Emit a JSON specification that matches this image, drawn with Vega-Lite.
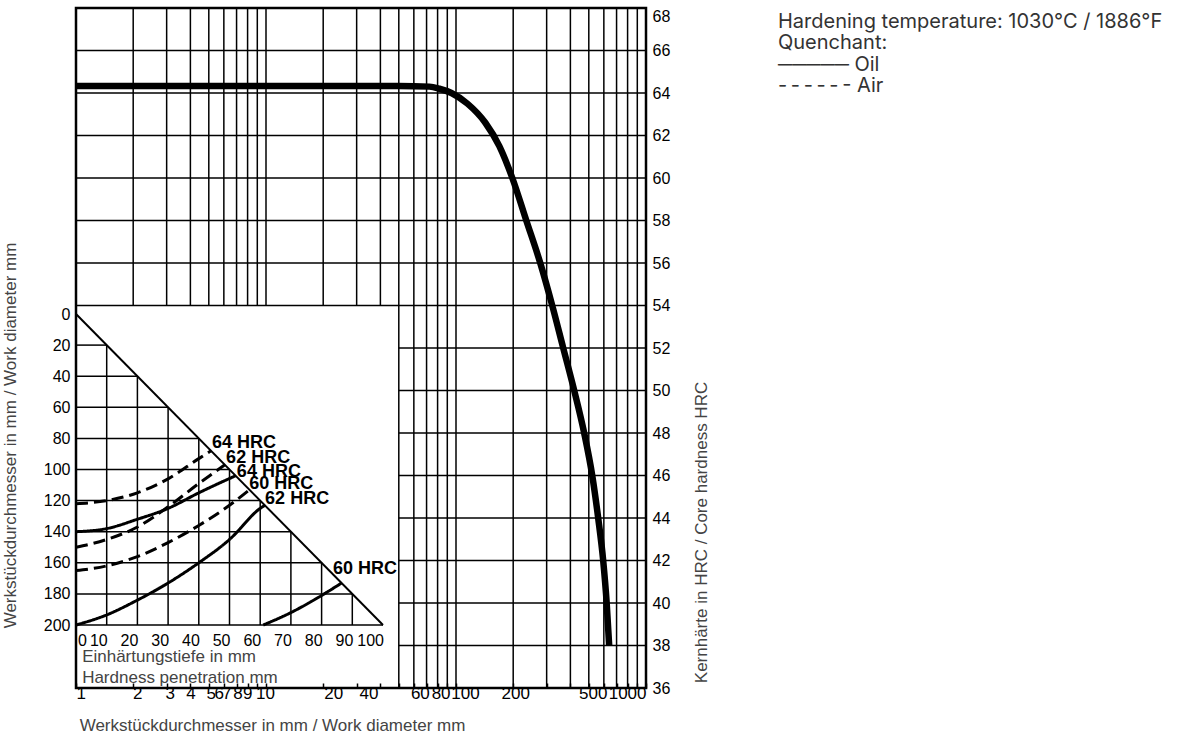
{
  "$schema": "https://vega.github.io/schema/vega-lite/v6.json",
  "width": 570,
  "height": 680,
  "autosize": "none",
  "padding": {"left": 76, "top": 8, "right": 532, "bottom": 52},
  "background": "white",
  "config": {
    "view": {"stroke": "#000", "strokeWidth": 2.5},
    "axis": {"grid": false}
  },
  "title": {
    "text": ["Hardening temperature: 1030°C / 1886°F", "Quenchant:", "───── Oil", "-\u2009-\u2009-\u2009-\u2009-\u2009- Air"],
    "anchor": "start",
    "frame": "group",
    "orient": "top",
    "dx": 702,
    "offset": -89,
    "baseline": "top",
    "font": "Inter",
    "fontSize": 20,
    "fontWeight": "normal",
    "color": "#333",
    "lineHeight": 21.5
  },
  "datasets": {
    "vgrid": [
      {"x": 2, "y": 54, "y2": 68}, {"x": 3, "y": 54, "y2": 68}, {"x": 4, "y": 54, "y2": 68},
      {"x": 5, "y": 54, "y2": 68}, {"x": 6, "y": 54, "y2": 68}, {"x": 7, "y": 54, "y2": 68},
      {"x": 8, "y": 54, "y2": 68}, {"x": 9, "y": 54, "y2": 68}, {"x": 10, "y": 54, "y2": 68},
      {"x": 20, "y": 54, "y2": 68}, {"x": 30, "y": 54, "y2": 68}, {"x": 40, "y": 54, "y2": 68},
      {"x": 50, "y": 36, "y2": 68}, {"x": 60, "y": 36, "y2": 68}, {"x": 70, "y": 36, "y2": 68},
      {"x": 80, "y": 36, "y2": 68}, {"x": 90, "y": 36, "y2": 68}, {"x": 100, "y": 36, "y2": 68},
      {"x": 200, "y": 36, "y2": 68}, {"x": 300, "y": 36, "y2": 68}, {"x": 400, "y": 36, "y2": 68},
      {"x": 500, "y": 36, "y2": 68}, {"x": 600, "y": 36, "y2": 68}, {"x": 700, "y": 36, "y2": 68},
      {"x": 800, "y": 36, "y2": 68}, {"x": 900, "y": 36, "y2": 68}
    ],
    "hgrid": [
      {"y": 38, "x": 50, "x2": 1000}, {"y": 40, "x": 50, "x2": 1000}, {"y": 42, "x": 50, "x2": 1000},
      {"y": 44, "x": 50, "x2": 1000}, {"y": 46, "x": 50, "x2": 1000}, {"y": 48, "x": 50, "x2": 1000},
      {"y": 50, "x": 50, "x2": 1000}, {"y": 52, "x": 50, "x2": 1000}, {"y": 54, "x": 1, "x2": 1000},
      {"y": 56, "x": 1, "x2": 1000}, {"y": 58, "x": 1, "x2": 1000}, {"y": 60, "x": 1, "x2": 1000},
      {"y": 62, "x": 1, "x2": 1000}, {"y": 64, "x": 1, "x2": 1000}, {"y": 66, "x": 1, "x2": 1000}
    ],
    "core": [
      {"x": 1, "y": 64.33}, {"x": 50, "y": 64.33}, {"x": 72.5, "y": 64.3}, {"x": 81.8, "y": 64.2},
      {"x": 94.6, "y": 64.0}, {"x": 114.8, "y": 63.5}, {"x": 142.7, "y": 62.6}, {"x": 169.1, "y": 61.5},
      {"x": 197.9, "y": 60.0}, {"x": 234.4, "y": 58.0}, {"x": 277.6, "y": 56.0}, {"x": 321.0, "y": 54.0},
      {"x": 366.7, "y": 52.0}, {"x": 419.0, "y": 50.0}, {"x": 472.8, "y": 48.0}, {"x": 521.2, "y": 46.0},
      {"x": 560.2, "y": 44.0}, {"x": 595.2, "y": 42.0}, {"x": 620.9, "y": 40.0}, {"x": 640.0, "y": 38.0}
    ],
    "ivgrid": [
      {"x": 10, "y": 20, "y2": 200}, {"x": 20, "y": 40, "y2": 200}, {"x": 30, "y": 60, "y2": 200},
      {"x": 40, "y": 80, "y2": 200}, {"x": 50, "y": 100, "y2": 200}, {"x": 60, "y": 120, "y2": 200},
      {"x": 70, "y": 140, "y2": 200}, {"x": 80, "y": 160, "y2": 200}, {"x": 90, "y": 180, "y2": 200}
    ],
    "ihgrid": [
      {"y": 20, "x": 0, "x2": 10}, {"y": 40, "x": 0, "x2": 20}, {"y": 60, "x": 0, "x2": 30},
      {"y": 80, "x": 0, "x2": 40}, {"y": 100, "x": 0, "x2": 50}, {"y": 120, "x": 0, "x2": 60},
      {"y": 140, "x": 0, "x2": 70}, {"y": 160, "x": 0, "x2": 80}, {"y": 180, "x": 0, "x2": 90},
      {"y": 200, "x": 0, "x2": 100}
    ],
    "diag": [{"x": 0, "y": 0, "x2": 100, "y2": 200}],
    "pen": [
      {"c": "A64", "q": "Air", "x": 0, "y": 122}, {"c": "A64", "q": "Air", "x": 10, "y": 120},
      {"c": "A64", "q": "Air", "x": 20, "y": 115}, {"c": "A64", "q": "Air", "x": 30, "y": 106},
      {"c": "A64", "q": "Air", "x": 40, "y": 93}, {"c": "A64", "q": "Air", "x": 44, "y": 88},
      {"c": "A62", "q": "Air", "x": 0, "y": 150}, {"c": "A62", "q": "Air", "x": 10, "y": 145},
      {"c": "A62", "q": "Air", "x": 20, "y": 137}, {"c": "A62", "q": "Air", "x": 30, "y": 124},
      {"c": "A62", "q": "Air", "x": 40, "y": 109}, {"c": "A62", "q": "Air", "x": 48.5, "y": 97},
      {"c": "A60", "q": "Air", "x": 0, "y": 165}, {"c": "A60", "q": "Air", "x": 10, "y": 162},
      {"c": "A60", "q": "Air", "x": 20, "y": 156}, {"c": "A60", "q": "Air", "x": 30, "y": 147},
      {"c": "A60", "q": "Air", "x": 40, "y": 136}, {"c": "A60", "q": "Air", "x": 50, "y": 123},
      {"c": "A60", "q": "Air", "x": 56.5, "y": 113},
      {"c": "O64", "q": "Oil", "x": 0, "y": 140}, {"c": "O64", "q": "Oil", "x": 10, "y": 138},
      {"c": "O64", "q": "Oil", "x": 20, "y": 132}, {"c": "O64", "q": "Oil", "x": 30, "y": 125},
      {"c": "O64", "q": "Oil", "x": 40, "y": 115}, {"c": "O64", "q": "Oil", "x": 52, "y": 104},
      {"c": "O62", "q": "Oil", "x": 0, "y": 200}, {"c": "O62", "q": "Oil", "x": 10, "y": 193.5},
      {"c": "O62", "q": "Oil", "x": 20, "y": 184}, {"c": "O62", "q": "Oil", "x": 30, "y": 173},
      {"c": "O62", "q": "Oil", "x": 40, "y": 160}, {"c": "O62", "q": "Oil", "x": 50, "y": 145},
      {"c": "O62", "q": "Oil", "x": 60, "y": 125}, {"c": "O62", "q": "Oil", "x": 61.5, "y": 123},
      {"c": "O60", "q": "Oil", "x": 61, "y": 200}, {"c": "O60", "q": "Oil", "x": 70, "y": 192},
      {"c": "O60", "q": "Oil", "x": 80, "y": 181}, {"c": "O60", "q": "Oil", "x": 86.5, "y": 173}
    ],
    "hrc": [
      {"t": "64 HRC", "x": 44.3, "y": 83}, {"t": "62 HRC", "x": 48.9, "y": 92.6},
      {"t": "64 HRC", "x": 52.4, "y": 101.6}, {"t": "60 HRC", "x": 56.4, "y": 109.3},
      {"t": "62 HRC", "x": 61.6, "y": 119}, {"t": "60 HRC", "x": 83.7, "y": 164}
    ],
    "ilab": [
      {"t": "10", "x": 10}, {"t": "20", "x": 20}, {"t": "30", "x": 30}, {"t": "40", "x": 40},
      {"t": "50", "x": 50}, {"t": "60", "x": 60}, {"t": "70", "x": 70}, {"t": "80", "x": 80},
      {"t": "90", "x": 90}, {"t": "100", "x": 100}
    ],
    "ititle": [
      {"t": "Einhärtungstiefe in mm", "x": 2, "y": 223.8},
      {"t": "Hardness penetration mm", "x": 2, "y": 237.3}
    ]
  },
  "layer": [
    {
      "layer": [
        {
          "data": {"name": "vgrid"},
          "mark": {"type": "rule", "stroke": "#000", "strokeWidth": 1.5},
          "encoding": {
            "x": {
              "field": "x", "type": "quantitative",
              "scale": {"type": "log", "domain": [1, 1000], "nice": false},
              "axis": {
                "orient": "bottom",
                "values": [1,2,3,4,5,6,7,8,9,10,20,30,40,50,60,70,80,90,100,200,300,400,500,600,700,800,900,1000],
                "labelExpr": "indexof([1,2,3,4,5,6,7,8,9,10,20,40,60,80,100,200,500,1000], datum.value) >= 0 ? '' + datum.value : ''",
                "labelFont": "Liberation Sans", "labelFontSize": 17, "labelColor": "#000",
                "labelPadding": 2, "labelFlush": true, "labelOverlap": false, "labelBound": false,
                "labelOffset": {
                  "condition": [
                    {"test": "datum.value == 2", "value": 4},
                    {"test": "datum.value == 3", "value": 3},
                    {"test": "datum.value == 5", "value": 2},
                    {"test": "datum.value == 6", "value": -5},
                    {"test": "datum.value == 7", "value": -10},
                    {"test": "datum.value == 8", "value": -10},
                    {"test": "datum.value == 9", "value": -10},
                    {"test": "datum.value == 10", "value": -1},
                    {"test": "datum.value == 20", "value": 10},
                    {"test": "datum.value == 40", "value": -12},
                    {"test": "datum.value == 60", "value": 6},
                    {"test": "datum.value == 80", "value": 3},
                    {"test": "datum.value == 100", "value": 9},
                    {"test": "datum.value == 200", "value": 2},
                    {"test": "datum.value == 500", "value": 4}
                  ],
                  "value": 0
                },
                "domain": false, "ticks": true, "tickSize": -5, "tickColor": "#000", "tickWidth": 1.5,
                "zindex": 1,
                "title": "Werkstückdurchmesser in mm / Work diameter mm",
                "titleFont": "Liberation Sans", "titleFontSize": 17, "titleFontWeight": "normal",
                "titleColor": "#444", "titleX": 196, "titleY": 37, "titleAlign": "center", "titleBaseline": "middle"
              }
            },
            "y": {
              "field": "y", "type": "quantitative",
              "scale": {"domain": [36, 68], "nice": false, "zero": false},
              "axis": {
                "orient": "right",
                "values": [36,38,40,42,44,46,48,50,52,54,56,58,60,62,64,66,68],
                "labelFont": "Liberation Sans", "labelFontSize": 16, "labelColor": "#000",
                "labelPadding": 6, "labelOverlap": false, "labelFlush": false,
                "labelBaseline": {"condition": {"test": "datum.value == 68", "value": "top"}, "value": "middle"},
                "domain": false, "ticks": false,
                "title": "Kernhärte in HRC / Core hardness HRC",
                "titleFont": "Liberation Sans", "titleFontSize": 17, "titleFontWeight": "normal",
                "titleColor": "#444", "titleAngle": 270, "titleX": 60, "titleY": 524,
                "titleAlign": "center", "titleBaseline": "alphabetic"
              }
            },
            "y2": {"field": "y2"}
          }
        },
        {
          "data": {"name": "hgrid"},
          "mark": {"type": "rule", "stroke": "#000", "strokeWidth": 1.5},
          "encoding": {
            "y": {"field": "y", "type": "quantitative"},
            "x": {"field": "x", "type": "quantitative"},
            "x2": {"field": "x2"}
          }
        },
        {
          "data": {"name": "core"},
          "mark": {"type": "line", "stroke": "#000", "strokeWidth": 6.5, "strokeCap": "butt", "strokeJoin": "round", "interpolate": "monotone"},
          "encoding": {
            "x": {"field": "x", "type": "quantitative"},
            "y": {"field": "y", "type": "quantitative"}
          }
        }
      ]
    },
    {
      "layer": [
        {
          "data": {"name": "ivgrid"},
          "mark": {"type": "rule", "stroke": "#000", "strokeWidth": 1.5},
          "encoding": {
            "x": {"field": "x", "type": "quantitative", "scale": {"domain": [0, 100], "range": [0, 307], "nice": false, "zero": false}, "axis": null},
            "y": {
              "field": "y", "type": "quantitative",
              "scale": {"domain": [0, 200], "range": [306, 617], "nice": false, "zero": false},
              "axis": {
                "orient": "left",
                "values": [0,20,40,60,80,100,120,140,160,180,200],
                "labelFont": "Liberation Sans", "labelFontSize": 16, "labelColor": "#000",
                "labelPadding": 6, "labelOverlap": false, "labelFlush": false, "labelBaseline": "middle",
                "domain": false, "ticks": false,
                "title": "Werkstückdurchmesser in mm / Work diameter mm",
                "titleFont": "Liberation Sans", "titleFontSize": 17, "titleFontWeight": "normal",
                "titleColor": "#444", "titleAngle": 270, "titleX": -61, "titleY": 427,
                "titleAlign": "center", "titleBaseline": "alphabetic"
              }
            },
            "y2": {"field": "y2"}
          }
        },
        {
          "data": {"name": "ihgrid"},
          "mark": {"type": "rule", "stroke": "#000", "strokeWidth": 1.5},
          "encoding": {
            "y": {"field": "y", "type": "quantitative"},
            "x": {"field": "x", "type": "quantitative", "axis": null},
            "x2": {"field": "x2"}
          }
        },
        {
          "data": {"name": "diag"},
          "mark": {"type": "rule", "stroke": "#000", "strokeWidth": 2},
          "encoding": {
            "x": {"field": "x", "type": "quantitative", "axis": null},
            "y": {"field": "y", "type": "quantitative"},
            "x2": {"field": "x2"},
            "y2": {"field": "y2"}
          }
        },
        {
          "data": {"name": "pen"},
          "mark": {"type": "line", "stroke": "#000", "strokeWidth": 3, "interpolate": "monotone"},
          "encoding": {
            "x": {"field": "x", "type": "quantitative", "axis": null},
            "y": {"field": "y", "type": "quantitative"},
            "detail": {"field": "c", "type": "nominal"},
            "strokeDash": {"field": "q", "type": "nominal", "scale": {"domain": ["Oil", "Air"], "range": [[1, 0], [12, 6]]}, "legend": null}
          }
        },
        {
          "data": {"name": "hrc"},
          "mark": {"type": "text", "align": "left", "baseline": "middle", "font": "Liberation Sans", "fontSize": 18, "fontWeight": "bold", "color": "#000"},
          "encoding": {
            "x": {"field": "x", "type": "quantitative", "axis": null},
            "y": {"field": "y", "type": "quantitative"},
            "text": {"field": "t"}
          }
        },
        {
          "data": {"name": "ilab"},
          "mark": {"type": "text", "align": "right", "baseline": "top", "dx": 1, "dy": 8, "font": "Liberation Sans", "fontSize": 16, "color": "#000"},
          "encoding": {
            "x": {"field": "x", "type": "quantitative", "axis": null},
            "y": {"datum": 200, "type": "quantitative"},
            "text": {"field": "t"}
          }
        },
        {
          "data": {"values": [{"t": "0", "x": 0}]},
          "mark": {"type": "text", "align": "left", "baseline": "top", "dx": 2, "dy": 8, "font": "Liberation Sans", "fontSize": 16, "color": "#000"},
          "encoding": {
            "x": {"field": "x", "type": "quantitative", "axis": null},
            "y": {"datum": 200, "type": "quantitative"},
            "text": {"field": "t"}
          }
        },
        {
          "data": {"name": "ititle"},
          "mark": {"type": "text", "align": "left", "baseline": "alphabetic", "font": "Liberation Sans", "fontSize": 17, "color": "#444"},
          "encoding": {
            "x": {"field": "x", "type": "quantitative", "axis": null},
            "y": {"field": "y", "type": "quantitative"},
            "text": {"field": "t"}
          }
        }
      ]
    }
  ],
  "resolve": {
    "scale": {"x": "independent", "y": "independent"},
    "axis": {"x": "independent", "y": "independent"}
  }
}
